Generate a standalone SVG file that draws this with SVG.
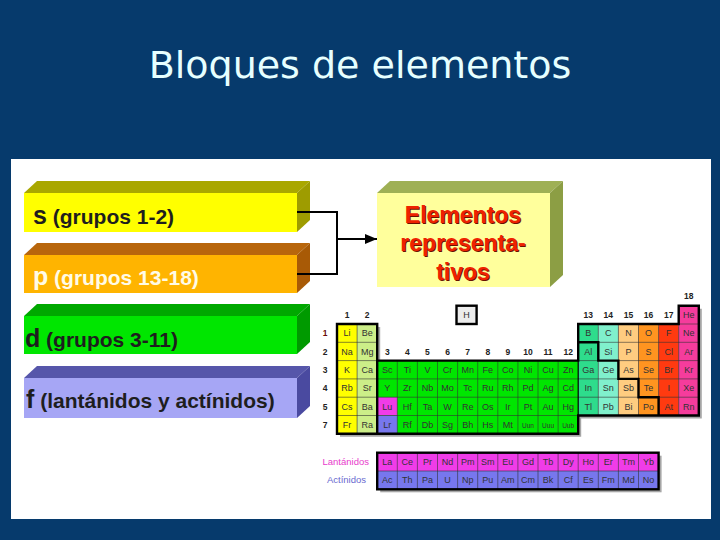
<svg xmlns="http://www.w3.org/2000/svg" width="720" height="540" viewBox="0 0 720 540">
<style>
.bt{font-family:"Liberation Sans",Arial,sans-serif;font-weight:bold;font-size:21px;fill:#1e1e1e}
.big{font-size:25px}
.ct{font-family:"Liberation Sans",Arial,sans-serif;font-weight:bold;font-size:23px;fill:#ee2200;text-anchor:middle}
.cs{font-family:"Liberation Sans",Arial,sans-serif;font-weight:bold;font-size:23px;fill:#6a1000;text-anchor:middle}
.el{font-family:"Liberation Sans",Arial,sans-serif;font-size:9px;fill:#333;text-anchor:middle}
.sm{font-size:6.5px}
.hd{font-family:"Liberation Sans",Arial,sans-serif;font-weight:bold;font-size:8.5px;fill:#222;text-anchor:middle}
.thin{fill:none;stroke:#333;stroke-width:0.6}
.thick{fill:none;stroke:#000;stroke-width:2.4;stroke-linejoin:miter}
.conn{fill:none;stroke:#000;stroke-width:2}
</style>
<defs>
<marker id="ah" viewBox="0 0 12 10" refX="12" refY="5" markerWidth="12" markerHeight="10" markerUnits="userSpaceOnUse" orient="auto">
<path d="M0 0L12 5L0 10Z" fill="#000"/>
</marker>
</defs>
<rect width="720" height="540" fill="#063a6c"/>
<text x="360" y="78" font-family="DejaVu Sans, Verdana, sans-serif" font-size="38" fill="#e6ffff" text-anchor="middle">Bloques de elementos</text>
<rect x="11" y="159" width="700" height="360" fill="#fff"/>

<g id="bar-s">
<polygon points="24,193 37,181 310,181 297,193" fill="#a9a700"/>
<polygon points="297,193 310,181 310,220 297,232" fill="#9e9c00"/>
<rect x="24" y="193" width="273" height="39" fill="#ffff00"/>
<text x="33" y="224" class="bt"><tspan class="big">s</tspan> (grupos 1-2)</text>
</g>
<g id="bar-p">
<polygon points="24,255 37,243 310,243 297,255" fill="#b8660c"/>
<polygon points="297,255 310,243 310,281 297,293" fill="#a85a06"/>
<rect x="24" y="255" width="273" height="38" fill="#ffb400"/>
<text x="33" y="285" class="bt" style="fill:#fffbe6"><tspan class="big">p</tspan> (grupos 13-18)</text>
</g>
<g id="bar-d">
<polygon points="24,316 37,304 310,304 297,316" fill="#00a800"/>
<polygon points="297,316 310,304 310,342 297,354" fill="#009a00"/>
<rect x="24" y="316" width="273" height="38" fill="#00e600"/>
<text x="25" y="347" class="bt"><tspan class="big">d</tspan> (grupos 3-11)</text>
</g>
<g id="bar-f">
<polygon points="24,378 37,366 310,366 297,378" fill="#5656aa"/>
<polygon points="297,378 310,366 310,406 297,418" fill="#4a4aa0"/>
<rect x="24" y="378" width="273" height="40" fill="#a6a6f5"/>
<text x="26" y="408" class="bt"><tspan class="big">f</tspan> (lantánidos y actínidos)</text>
</g>

<g id="callout">
<polygon points="377,193 390,181 563,181 550,193" fill="#9fb055"/>
<polygon points="550,193 563,181 563,275 550,287" fill="#8c9e44"/>
<rect x="377" y="193" width="173" height="94" fill="#ffff9c"/>
<text x="464" y="224" class="cs">Elementos</text>
<text x="463" y="223" class="ct">Elementos</text>
<text x="464" y="252" class="cs">representa-</text>
<text x="463" y="251" class="ct">representa-</text>
<text x="464" y="281" class="cs">tivos</text>
<text x="463" y="280" class="ct">tivos</text>
</g>

<g id="connectors">
<path class="conn" d="M297 212H337V274H297"/>
<path class="conn" d="M337 239H377" marker-end="url(#ah)"/>
</g>

<g id="periodic-table">
<path d="M340 327H380.2V363.6H581.2V327H681.7V308.7H701.8V418.5H581.2V436.8H340Z" fill="#000" opacity="0.35"/>
<rect x="337" y="324" width="20.1" height="109.8" fill="#ffff00"/>
<rect x="357.1" y="324" width="20.1" height="109.8" fill="#ccee88"/>
<rect x="377.2" y="360.6" width="201" height="73.2" fill="#00e600"/>
<rect x="377.2" y="397.2" width="20.1" height="18.3" fill="#f03ce8"/>
<rect x="377.2" y="415.5" width="20.1" height="18.3" fill="#7777ee"/>
<rect x="578.2" y="324" width="20.1" height="91.5" fill="#2edc8c"/>
<rect x="598.3" y="324" width="20.1" height="91.5" fill="#80f0cc"/>
<rect x="618.4" y="324" width="20.1" height="91.5" fill="#ffcc80"/>
<rect x="638.5" y="324" width="20.1" height="91.5" fill="#ff9420"/>
<rect x="658.6" y="324" width="20.1" height="91.5" fill="#ff3a10"/>
<rect x="678.7" y="305.7" width="20.1" height="109.8" fill="#f53c9c"/>
<path class="thin" d="M337 342.3H377.2M578.2 342.3H698.8M337 360.6H698.8M337 378.9H698.8M337 397.2H698.8M337 415.5H578.2M678.7 324H698.8M357.1 324V433.8M397.3 360.6V433.8M417.4 360.6V433.8M437.5 360.6V433.8M457.6 360.6V433.8M477.7 360.6V433.8M497.8 360.6V433.8M517.9 360.6V433.8M538 360.6V433.8M558.1 360.6V433.8M598.3 324V415.5M618.4 324V415.5M638.5 324V415.5M658.6 324V415.5M678.7 324V415.5"/>
<path d="M578.2 360.6V433.8" fill="none" stroke="#000" stroke-width="1.2"/>
<path class="thick" d="M337 324H377.2V360.6H578.2V324H678.7V305.7H698.8V415.5H578.2V433.8H337Z"/>
<path class="thick" d="M377.2 360.6V433.8"/>
<path class="thick" d="M578.2 342.3H598.3V360.6H618.4V378.9H638.5V397.2H658.6V415.5"/>
<g id="H">
<rect x="456.5" y="305.7" width="20.1" height="18.3" fill="#ececec" stroke="#000" stroke-width="2.4"/>
<text x="466.5" y="318" class="el">H</text>
</g>
<text class="hd"><tspan x="347.05" y="318">1</tspan><tspan x="367.15" y="318">2</tspan><tspan x="387.25" y="355">3</tspan><tspan x="407.35" y="355">4</tspan><tspan x="427.45" y="355">5</tspan><tspan x="447.55" y="355">6</tspan><tspan x="467.65" y="355">7</tspan><tspan x="487.75" y="355">8</tspan><tspan x="507.85" y="355">9</tspan><tspan x="527.95" y="355">10</tspan><tspan x="548.05" y="355">11</tspan><tspan x="568.15" y="355">12</tspan><tspan x="588.25" y="318">13</tspan><tspan x="608.35" y="318">14</tspan><tspan x="628.45" y="318">15</tspan><tspan x="648.55" y="318">16</tspan><tspan x="668.65" y="318">17</tspan><tspan x="688.75" y="299">18</tspan></text>
<text class="hd"><tspan x="325" y="336.3" fill="#6a0a0a">1</tspan><tspan x="325" y="354.6">2</tspan><tspan x="325" y="372.9">3</tspan><tspan x="325" y="391.2">4</tspan><tspan x="325" y="409.5">5</tspan><tspan x="325" y="427.8">7</tspan></text>
<text class="el" y="318"><tspan x="688.75">He</tspan></text>
<text class="el" y="336.3"><tspan x="347.05">Li</tspan><tspan x="367.15">Be</tspan><tspan x="588.25">B</tspan><tspan x="608.35">C</tspan><tspan x="628.45">N</tspan><tspan x="648.55">O</tspan><tspan x="668.65">F</tspan><tspan x="688.75">Ne</tspan></text>
<text class="el" y="354.6"><tspan x="347.05">Na</tspan><tspan x="367.15">Mg</tspan><tspan x="588.25">Al</tspan><tspan x="608.35">Si</tspan><tspan x="628.45">P</tspan><tspan x="648.55">S</tspan><tspan x="668.65">Cl</tspan><tspan x="688.75">Ar</tspan></text>
<text class="el" y="372.9"><tspan x="347.05">K</tspan><tspan x="367.15">Ca</tspan><tspan x="387.25">Sc</tspan><tspan x="407.35">Ti</tspan><tspan x="427.45">V</tspan><tspan x="447.55">Cr</tspan><tspan x="467.65">Mn</tspan><tspan x="487.75">Fe</tspan><tspan x="507.85">Co</tspan><tspan x="527.95">Ni</tspan><tspan x="548.05">Cu</tspan><tspan x="568.15">Zn</tspan><tspan x="588.25">Ga</tspan><tspan x="608.35">Ge</tspan><tspan x="628.45">As</tspan><tspan x="648.55">Se</tspan><tspan x="668.65">Br</tspan><tspan x="688.75">Kr</tspan></text>
<text class="el" y="391.2"><tspan x="347.05">Rb</tspan><tspan x="367.15">Sr</tspan><tspan x="387.25">Y</tspan><tspan x="407.35">Zr</tspan><tspan x="427.45">Nb</tspan><tspan x="447.55">Mo</tspan><tspan x="467.65">Tc</tspan><tspan x="487.75">Ru</tspan><tspan x="507.85">Rh</tspan><tspan x="527.95">Pd</tspan><tspan x="548.05">Ag</tspan><tspan x="568.15">Cd</tspan><tspan x="588.25">In</tspan><tspan x="608.35">Sn</tspan><tspan x="628.45">Sb</tspan><tspan x="648.55">Te</tspan><tspan x="668.65">I</tspan><tspan x="688.75">Xe</tspan></text>
<text class="el" y="409.5"><tspan x="347.05">Cs</tspan><tspan x="367.15">Ba</tspan><tspan x="387.25">Lu</tspan><tspan x="407.35">Hf</tspan><tspan x="427.45">Ta</tspan><tspan x="447.55">W</tspan><tspan x="467.65">Re</tspan><tspan x="487.75">Os</tspan><tspan x="507.85">Ir</tspan><tspan x="527.95">Pt</tspan><tspan x="548.05">Au</tspan><tspan x="568.15">Hg</tspan><tspan x="588.25">Tl</tspan><tspan x="608.35">Pb</tspan><tspan x="628.45">Bi</tspan><tspan x="648.55">Po</tspan><tspan x="668.65">At</tspan><tspan x="688.75">Rn</tspan></text>
<text class="el" y="427.8"><tspan x="347.05">Fr</tspan><tspan x="367.15">Ra</tspan><tspan x="387.25">Lr</tspan><tspan x="407.35">Rf</tspan><tspan x="427.45">Db</tspan><tspan x="447.55">Sg</tspan><tspan x="467.65">Bh</tspan><tspan x="487.75">Hs</tspan><tspan x="507.85">Mt</tspan><tspan x="527.95" class="sm">Uun</tspan><tspan x="548.05" class="sm">Uuu</tspan><tspan x="568.15" class="sm">Uub</tspan></text>
</g>

<g id="f-table">
<rect x="380.2" y="455.7" width="281.4" height="36.6" fill="#000" opacity="0.35"/>
<rect x="377.2" y="452.7" width="281.4" height="18.3" fill="#f03ce8"/>
<rect x="377.2" y="471" width="281.4" height="18.3" fill="#7777ee"/>
<path class="thin" d="M377.2 471H658.6M397.3 452.7V489.3M417.4 452.7V489.3M437.5 452.7V489.3M457.6 452.7V489.3M477.7 452.7V489.3M497.8 452.7V489.3M517.9 452.7V489.3M538 452.7V489.3M558.1 452.7V489.3M578.2 452.7V489.3M598.3 452.7V489.3M618.4 452.7V489.3M638.5 452.7V489.3"/>
<rect class="thick" x="377.2" y="452.7" width="281.4" height="36.6"/>
<text x="369" y="465" font-family="Liberation Sans, Arial, sans-serif" font-size="9.5" fill="#e83ccc" text-anchor="end">Lantánidos</text>
<text x="366" y="483.3" font-family="Liberation Sans, Arial, sans-serif" font-size="9.5" fill="#6a6ad0" text-anchor="end">Actínidos</text>
<text class="el" y="465"><tspan x="387.25">La</tspan><tspan x="407.35">Ce</tspan><tspan x="427.45">Pr</tspan><tspan x="447.55">Nd</tspan><tspan x="467.65">Pm</tspan><tspan x="487.75">Sm</tspan><tspan x="507.85">Eu</tspan><tspan x="527.95">Gd</tspan><tspan x="548.05">Tb</tspan><tspan x="568.15">Dy</tspan><tspan x="588.25">Ho</tspan><tspan x="608.35">Er</tspan><tspan x="628.45">Tm</tspan><tspan x="648.55">Yb</tspan></text>
<text class="el" y="483.3"><tspan x="387.25">Ac</tspan><tspan x="407.35">Th</tspan><tspan x="427.45">Pa</tspan><tspan x="447.55">U</tspan><tspan x="467.65">Np</tspan><tspan x="487.75">Pu</tspan><tspan x="507.85">Am</tspan><tspan x="527.95">Cm</tspan><tspan x="548.05">Bk</tspan><tspan x="568.15">Cf</tspan><tspan x="588.25">Es</tspan><tspan x="608.35">Fm</tspan><tspan x="628.45">Md</tspan><tspan x="648.55">No</tspan></text>
</g>
</svg>
